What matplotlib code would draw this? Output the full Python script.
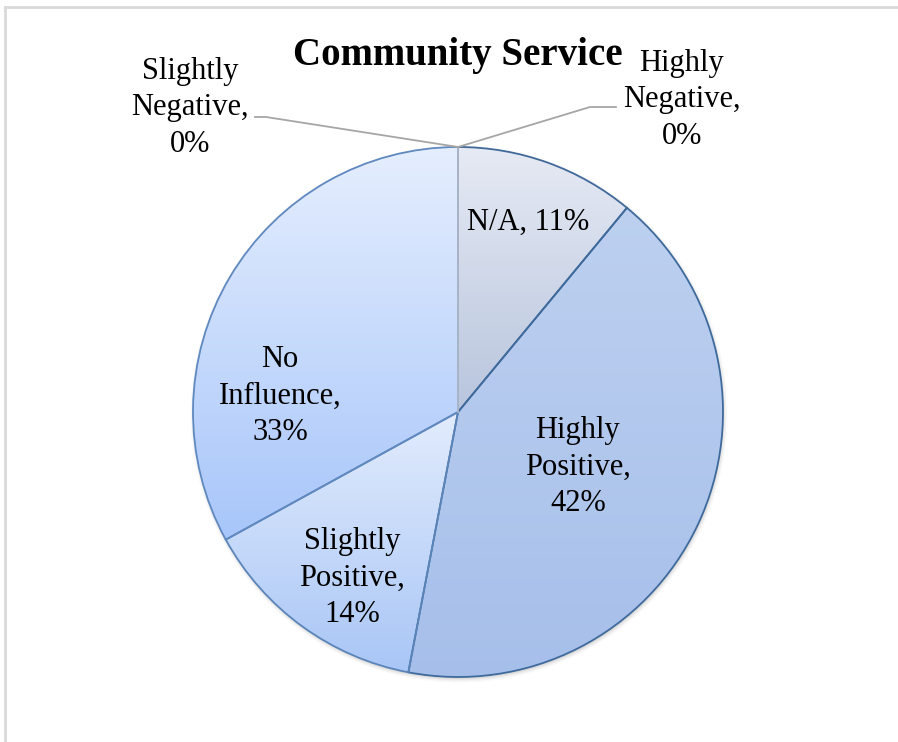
import numpy as np
import matplotlib.pyplot as plt
from matplotlib.colors import LinearSegmentedColormap
from matplotlib.patches import Circle

categories = ['N/A', 'Highly Positive', 'Slightly Positive', 'No Influence',
              'Slightly Negative', 'Highly Negative']
percent = [11, 42, 14, 33, 0, 0]

# vertical gradient (top, bottom) and outline per slice
fill_top = ['#E6EAF4', '#BDD0F0', '#E2ECFD', '#E5EEFE', '#E5EEFE', '#E5EEFE']
fill_bottom = ['#B8C5DD', '#A6BFEA', '#A9C6F6', '#A8C6FA', '#A8C6FA', '#A8C6FA']
edge_cols = ['#41699A', '#3E6A9C', '#5B84B8', '#5F89BF', '#A8B4C8', '#A8B4C8']

W, H = 898, 742
plt.rcParams['font.family'] = ['Liberation Serif', 'DejaVu Serif']

fig = plt.figure(figsize=(W / 100, H / 100), dpi=100)
ax = fig.add_axes([0, 0, 1, 1])

cx, cy, r = 458, H - 412, 265

# soft drop shadow under the pie
for k, a in enumerate([0.05, 0.04, 0.03, 0.02]):
    ax.add_patch(Circle((cx + 1, cy - 2), r + k * 1.2, color='black', alpha=a,
                        lw=0, zorder=0))
ax.add_patch(Circle((cx, cy), r, color='white', lw=0, zorder=0.5))

wedges, _ = ax.pie(percent, startangle=90, counterclock=False,
                   center=(cx, cy), radius=r,
                   wedgeprops=dict(linewidth=1.3, facecolor='none'))

for i, w in enumerate(wedges):
    w.set_edgecolor(edge_cols[i])
    w.set_zorder(3)
    if percent[i] == 0:
        continue
    v = w.get_path().vertices
    x0, x1 = v[:, 0].min(), v[:, 0].max()
    y0, y1 = v[:, 1].min(), v[:, 1].max()
    cmap = LinearSegmentedColormap.from_list('g', [fill_bottom[i], fill_top[i]])
    grad = np.linspace(0, 1, 256).reshape(-1, 1)
    im = ax.imshow(grad, cmap=cmap, origin='lower', aspect='auto',
                   extent=[x0, x1, y0, y1], zorder=2, interpolation='bilinear')
    im.set_clip_path(w)

# line where the empty slices sit
ax.plot([cx, cx], [cy, cy + r], color='#A8B4C8', lw=1.3, zorder=4)

# slice labels (pixel positions from the top-left)
label_pos = [(528, 222), (578, 467), (352, 578), (280, 396), (190, 108), (682, 100)]
for name, val, (px, py) in zip(categories, percent, label_pos):
    if name == 'N/A':
        txt = f'{name}, {val}%'
    else:
        txt = name.replace(' ', '\n') + f',\n{val}%'
    ax.text(px, H - py, txt, ha='center', va='center', fontsize=22,
            linespacing=1.32, color='black', zorder=5)

# leader lines for the zero slices
ax.plot([255, 266, cx], [H - 117, H - 117, cy + r], color='#A6A6A6', lw=1.3, zorder=4)
ax.plot([cx, 590, 616], [cy + r, H - 107, H - 107], color='#A6A6A6', lw=1.3, zorder=4)

ax.text(458, H - 55, 'Community Service', ha='center', va='center',
        fontsize=28, fontweight='bold', zorder=5)

# chart frame (top and left edges visible)
ax.plot([5, W], [H - 7, H - 7], color='#D9D9D9', lw=2, zorder=1)
ax.plot([5, 5], [H - 7, 0], color='#D9D9D9', lw=2, zorder=1)

ax.set_xlim(0, W)
ax.set_ylim(0, H)
ax.set_aspect('auto')
ax.axis('off')

fig.savefig('out.png', dpi=100, facecolor='white')
